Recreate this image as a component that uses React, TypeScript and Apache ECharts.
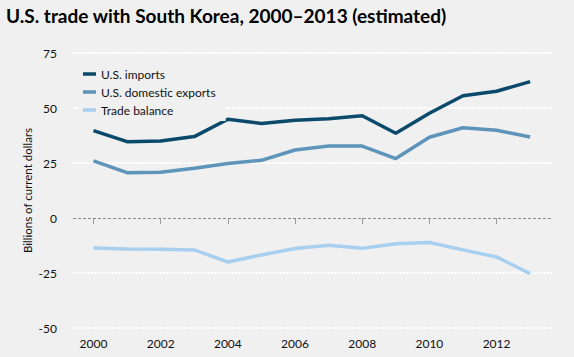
import React, { useEffect, useRef } from "react";
import * as echarts from "echarts";

const years = [2000, 2001, 2002, 2003, 2004, 2005, 2006, 2007, 2008, 2009, 2010, 2011, 2012, 2013];
const imports = [39.7, 34.7, 35.0, 37.0, 44.9, 43.0, 44.4, 45.1, 46.5, 38.5, 47.6, 55.6, 57.6, 62.0];
const exportsDom = [26.0, 20.6, 20.8, 22.6, 24.8, 26.2, 30.9, 32.7, 32.7, 27.0, 36.7, 41.0, 39.9, 36.8];
const balance = [-13.6, -14.1, -14.2, -14.5, -20.0, -16.8, -13.9, -12.4, -13.8, -11.7, -11.1, -14.5, -17.7, -25.3];
const xTickYears = [2000, 2002, 2004, 2006, 2008, 2010, 2012];
const seriesNames = ["U.S. imports", "U.S. domestic exports", "Trade balance"];
const colors = ["#0b4a6b", "#5e94b9", "#a9cfee"];

const FONT = "Lato, 'Open Sans', sans-serif";

export default function App() {
  const ref = useRef<HTMLDivElement>(null);
  useEffect(() => {
    if (!ref.current) return;
    const chart = echarts.init(ref.current, undefined, { renderer: "svg" });
    const mk = (vals: number[]) => years.map((y, i) => [y, vals[i]]);
    const datasets = [imports, exportsDom, balance];
    chart.setOption({
      animation: false,
      backgroundColor: "#f0f0f0",
      textStyle: { fontFamily: FONT },
      title: {
        text: "U.S. trade with South Korea, 2000\u20132013 (estimated)",
        left: 1,
        top: 1,
        textStyle: { fontSize: 19, fontWeight: "bold", color: "#000", fontFamily: FONT },
      },
      legend: {
        orient: "vertical",
        left: 78,
        top: 63,
        padding: [4, 10, 4, 5],
        backgroundColor: "#f0f0f0",
        itemWidth: 13,
        itemHeight: 3.5,
        itemGap: 4,
        icon: "rect",
        data: seriesNames,
        textStyle: { fontSize: 12, color: "#111", lineHeight: 14, fontFamily: FONT },
        z: 10,
      },
      grid: { left: 73, right: 21, top: 53, bottom: 29 },
      xAxis: {
        type: "value",
        min: 1999.39,
        max: 2013.68,
        axisLine: { show: false },
        splitLine: { show: false },
        axisTick: {
          show: true,
          customValues: xTickYears,
          length: 6,
          lineStyle: { color: "#999", width: 1 },
        },
        axisLabel: {
          customValues: xTickYears,
          margin: 9,
          fontSize: 12,
          color: "#111",
          formatter: (v: number) => String(v),
        },
      },
      yAxis: {
        type: "value",
        min: -50,
        max: 75,
        interval: 25,
        name: "Billions of current dollars",
        nameLocation: "middle",
        nameGap: 40,
        nameMoveOverlap: false,
        nameTextStyle: { fontSize: 11.5, color: "#111" },
        axisLine: { show: false },
        axisTick: { show: false },
        axisLabel: { margin: 16, fontSize: 12, color: "#111" },
        splitLine: {
          show: true,
          showMinLine: true,
          showMaxLine: true,
          lineStyle: {
            color: ["#ffffff", "#ffffff", "rgba(240,240,240,0)", "#ffffff", "#ffffff", "#ffffff"],
            width: 2,
            type: [2, 1],
            cap: "butt",
          },
        },
      },
      series: seriesNames.map((name, i) => ({
        name,
        type: "line",
        data: mk(datasets[i]),
        showSymbol: false,
        symbol: "none",
        lineStyle: { color: colors[i], width: 3.5 },
        itemStyle: { color: colors[i] },
        z: 3,
        markLine:
          i === 1
            ? {
                silent: true,
                symbol: "none",
                label: { show: false },
                lineStyle: { color: "#888", type: [3, 2], width: 1 },
                data: [{ yAxis: 0 }],
              }
            : undefined,
      })),
    });
    return () => chart.dispose();
  }, []);
  return (
    <div
      ref={ref}
      style={{ position: "fixed", left: 0, top: 0, width: 574, height: 357 }}
    />
  );
}
